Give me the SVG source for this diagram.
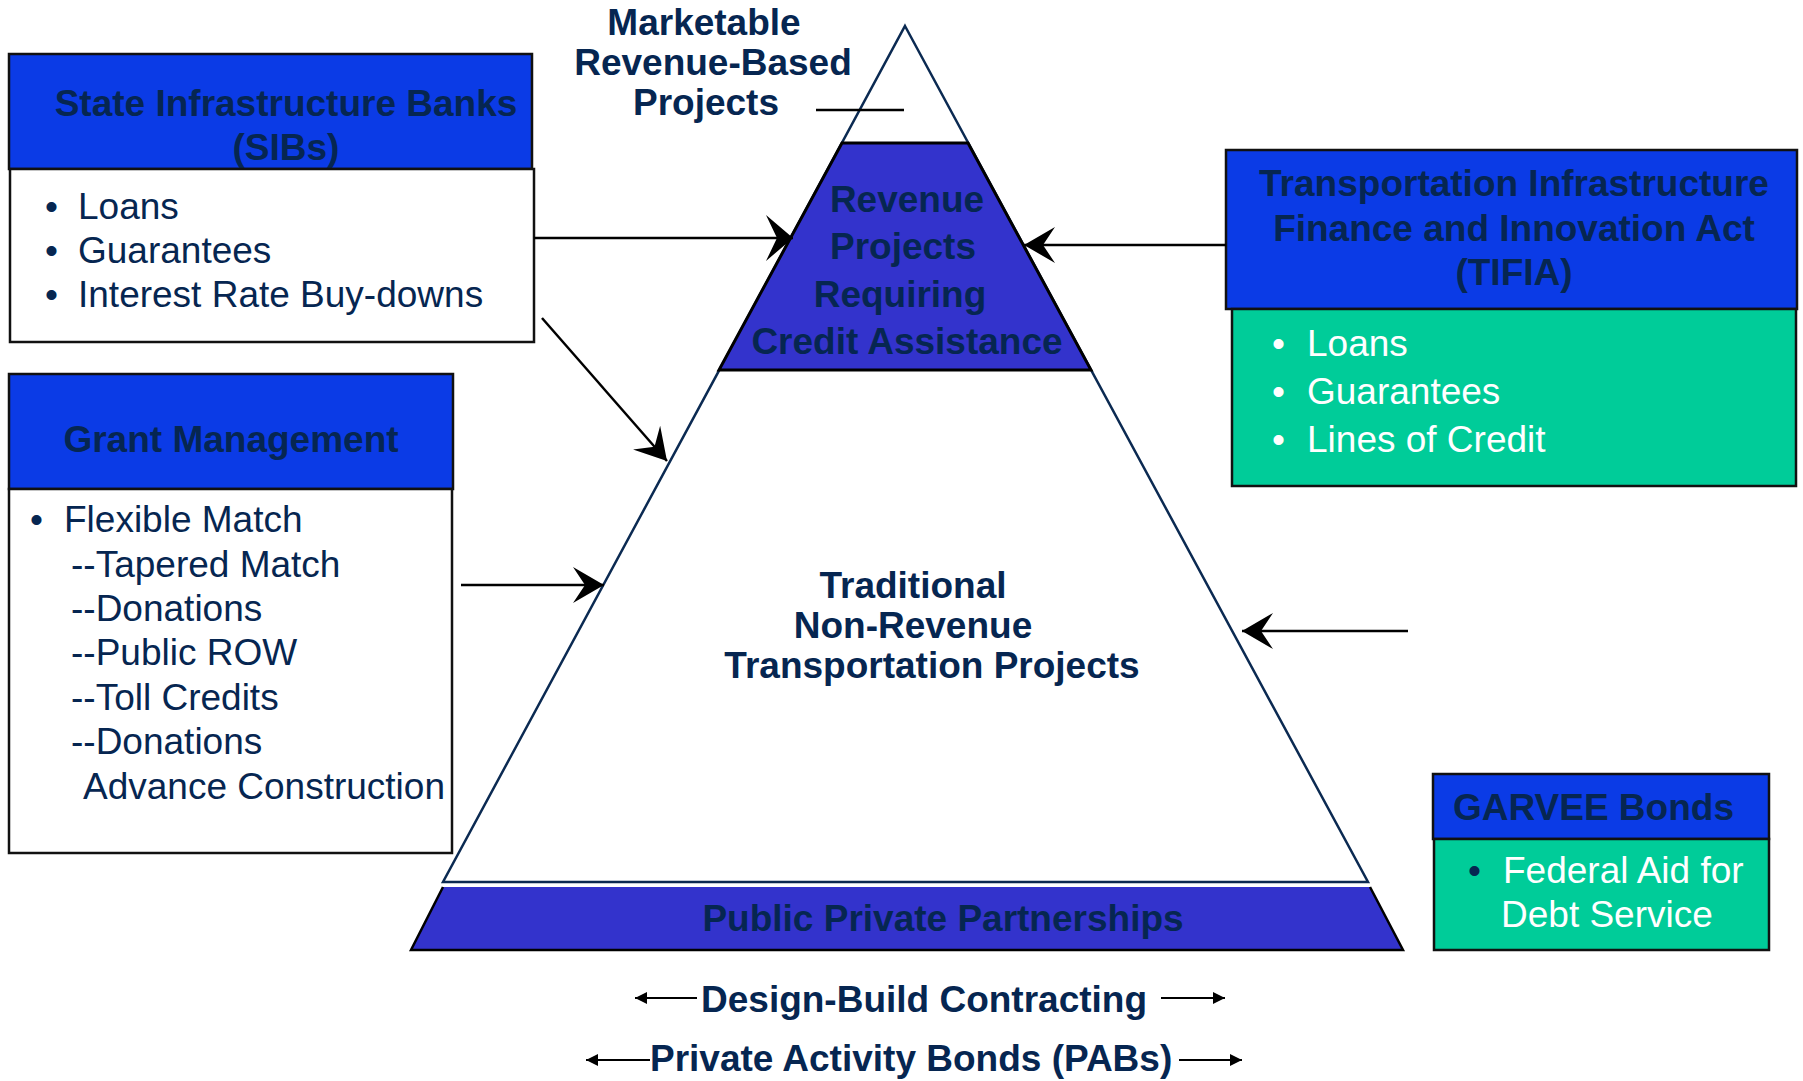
<svg xmlns="http://www.w3.org/2000/svg" width="1803" height="1081" viewBox="0 0 1803 1081">
<defs>
<style>
text{font-family:"Liberation Sans",Arial,sans-serif;font-size:37px;fill:#062651}
.b{font-weight:bold}
.w{fill:#ffffff}
.m{text-anchor:middle}
.hdr{fill:#0b3be6;stroke:#111;stroke-width:2.5}
.body{fill:#ffffff;stroke:#111;stroke-width:2.5}
.green{fill:#00cc99;stroke:#111;stroke-width:2.5}
.conn{stroke:#000;stroke-width:2.5;fill:none}
.thin{stroke:#000;stroke-width:2;fill:none}
</style>
<marker id="stealth" markerUnits="userSpaceOnUse" viewBox="-30 -24 32 48" refX="0" refY="0" markerWidth="32" markerHeight="48" orient="auto">
<path d="M0,0 L-27,-23 L-16,0 L-27,23 Z" fill="#000"/>
</marker>
<marker id="stealth2" markerUnits="userSpaceOnUse" viewBox="-34 -20 36 40" refX="0" refY="0" markerWidth="36" markerHeight="40" orient="auto">
<path d="M0,0 L-31,-18 L-19,0 L-31,18 Z" fill="#000"/>
</marker>
<marker id="tri" markerUnits="userSpaceOnUse" viewBox="-13 -7 14 14" refX="0" refY="0" markerWidth="14" markerHeight="14" orient="auto">
<path d="M0,0 L-12,-6 L-12,6 Z" fill="#000"/>
</marker>
</defs>
<rect width="1803" height="1081" fill="#ffffff"/>

<g id="pyramid">
<polygon points="905,26 1368,882 443,882" fill="#ffffff" stroke="#0b2a52" stroke-width="2.5" stroke-linejoin="miter"/>
</g>

<g id="marketable">
<text class="b m" x="704" y="35">Marketable</text>
<text class="b m" x="713" y="75">Revenue-Based</text>
<text class="b m" x="706" y="115">Projects</text>
<line x1="816" y1="110" x2="904" y2="110" stroke="#000" stroke-width="2.5"/>
</g>

<g id="revenue">
<polygon points="842,143 968,143 1091,370 719,370" fill="#3333cc" stroke="#000" stroke-width="3"/>
<text class="b m" x="907" y="212">Revenue</text>
<text class="b m" x="903" y="259">Projects</text>
<text class="b m" x="900" y="307">Requiring</text>
<text class="b m" x="907" y="354">Credit Assistance</text>
</g>

<g id="traditional">
<text class="b m" x="913" y="598">Traditional</text>
<text class="b m" x="913" y="638">Non-Revenue</text>
<text class="b m" x="932" y="678">Transportation Projects</text>
</g>

<g id="ppp">
<polygon points="443,887 1370,887 1403,950 411,950" fill="#3333cc"/>
<polyline points="443,887 411,950 1403,950 1370,887" fill="none" stroke="#000" stroke-width="2.5"/>
<text class="b m" x="943" y="931">Public Private Partnerships</text>
</g>

<g id="sib">
<rect class="hdr" x="9" y="54" width="523" height="115"/>
<text class="b m" x="286" y="116">State Infrastructure Banks</text>
<text class="b m" x="286" y="160">(SIBs)</text>
<rect class="body" x="10" y="169" width="524" height="173"/>
<text x="45" y="219">•<tspan x="78">Loans</tspan></text>
<text x="45" y="263">•<tspan x="78">Guarantees</tspan></text>
<text x="45" y="307">•<tspan x="78">Interest Rate Buy-downs</tspan></text>
</g>

<g id="grant">
<rect class="hdr" x="9" y="374" width="444" height="115"/>
<text class="b m" x="231" y="452">Grant Management</text>
<rect class="body" x="9" y="489" width="443" height="364"/>
<text x="30" y="532">•<tspan x="64">Flexible Match</tspan></text>
<text x="71" y="577">--Tapered Match</text>
<text x="71" y="621">--Donations</text>
<text x="71" y="665">--Public ROW</text>
<text x="71" y="710">--Toll Credits</text>
<text x="71" y="754">--Donations</text>
<text x="83" y="799">Advance Construction</text>
</g>

<g id="tifia">
<rect class="hdr" x="1226" y="150" width="571" height="159"/>
<text class="b m" x="1514" y="196">Transportation Infrastructure</text>
<text class="b m" x="1514" y="241">Finance and Innovation Act</text>
<text class="b m" x="1514" y="285">(TIFIA)</text>
<rect class="green" x="1232" y="309" width="564" height="177"/>
<text class="w" x="1272" y="356">•<tspan x="1307">Loans</tspan></text>
<text class="w" x="1272" y="404">•<tspan x="1307">Guarantees</tspan></text>
<text class="w" x="1272" y="452">•<tspan x="1307">Lines of Credit</tspan></text>
</g>

<g id="garvee">
<rect class="hdr" x="1433" y="774" width="336" height="65"/>
<text class="b" x="1453" y="820">GARVEE Bonds</text>
<rect class="green" x="1434" y="839" width="335" height="111"/>
<text x="1468" y="883">•</text>
<text class="w" x="1503" y="883">Federal Aid for</text>
<text class="w" x="1501" y="927">Debt Service</text>
</g>

<g id="design-build">
<text class="b" x="701" y="1012">Design-Build Contracting</text>
</g>
<g id="pabs">
<text class="b" x="650" y="1071">Private Activity Bonds (PABs)</text>
</g>

<g id="connectors">
<line class="conn" x1="534" y1="238" x2="793" y2="238" marker-end="url(#stealth)"/>
<line class="conn" x1="542" y1="318" x2="667" y2="461" marker-end="url(#stealth2)"/>
<line class="conn" x1="461" y1="585" x2="604" y2="585" marker-end="url(#stealth2)"/>
<line class="conn" x1="1226" y1="245" x2="1024" y2="245" marker-end="url(#stealth2)"/>
<line class="conn" x1="1408" y1="631" x2="1242" y2="631" marker-end="url(#stealth2)"/>
<line class="thin" x1="697" y1="998" x2="635" y2="998" marker-end="url(#tri)"/>
<line class="thin" x1="1161" y1="998" x2="1225" y2="998" marker-end="url(#tri)"/>
<line class="thin" x1="650" y1="1060" x2="586" y2="1060" marker-end="url(#tri)"/>
<line class="thin" x1="1179" y1="1060" x2="1242" y2="1060" marker-end="url(#tri)"/>
</g>
</svg>
